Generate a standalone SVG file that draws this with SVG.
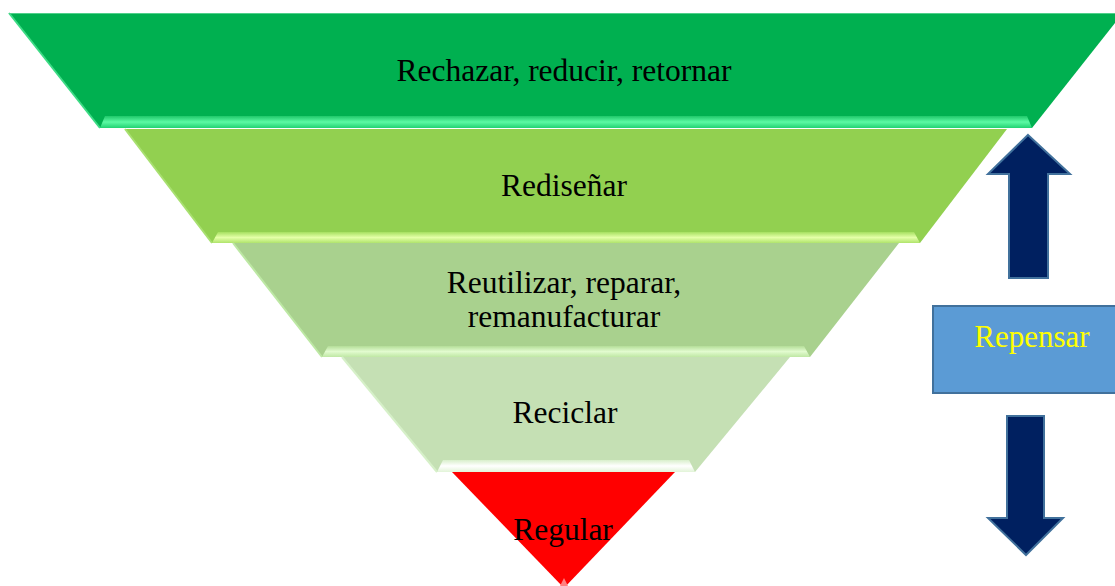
<svg xmlns="http://www.w3.org/2000/svg" width="1115" height="586" viewBox="0 0 1115 586">
  <defs>
    <linearGradient id="bev1" x1="0" y1="0" x2="0" y2="1">
      <stop offset="0" stop-color="#1FC86A"/>
      <stop offset="0.5" stop-color="#5CFAA4"/>
      <stop offset="1" stop-color="#22D272"/>
    </linearGradient>
    <linearGradient id="bev2" x1="0" y1="0" x2="0" y2="1">
      <stop offset="0" stop-color="#A6E060"/>
      <stop offset="0.5" stop-color="#E4FFA8"/>
      <stop offset="1" stop-color="#B0E46C"/>
    </linearGradient>
    <linearGradient id="bev3" x1="0" y1="0" x2="0" y2="1">
      <stop offset="0" stop-color="#B4DE98"/>
      <stop offset="0.5" stop-color="#E2FBCF"/>
      <stop offset="1" stop-color="#BFE8A4"/>
    </linearGradient>
    <linearGradient id="bev4" x1="0" y1="0" x2="0" y2="1">
      <stop offset="0" stop-color="#D8EFCB"/>
      <stop offset="0.5" stop-color="#FFFFFF"/>
      <stop offset="1" stop-color="#E2F4D8"/>
    </linearGradient>
  </defs>
  <style>
    .lbl { font-family: "Liberation Serif", "Times New Roman", serif; font-size: 31.5px; fill: #000000; text-anchor: middle; }
    .rep { font-family: "Liberation Serif", "Times New Roman", serif; font-size: 31px; fill: #FFFF00; text-anchor: middle; }
    .arrow { fill: #002060; stroke: #41719C; stroke-width: 2; }
  </style>

  <g id="level1">
    <polygon points="9,13 1123,13 1032,128 100,128" fill="#00B050"/>
    <polygon points="100,128 105,116 1027,116 1032,128" fill="url(#bev1)"/>
    <polyline points="9,13 100,128" fill="none" stroke="#3DDB85" stroke-width="2"/>
    <line x1="9" y1="13.5" x2="1115" y2="13.5" stroke="#4FD08A" stroke-width="1"/>
    <text class="lbl" x="564" y="81">Rechazar, reducir, retornar</text>
  </g>

  <g id="level2">
    <polygon points="125,129 1007,129 920,243 212,243" fill="#92D050"/>
    <polygon points="212,243 218,232 914,232 920,243" fill="url(#bev2)"/>
    <polyline points="125,129 212,243" fill="none" stroke="#A8E070" stroke-width="2"/>
    <text class="lbl" x="564" y="196">Rediseñar</text>
  </g>

  <g id="level3">
    <polygon points="233,243 899,243 810,357 322,357" fill="#A9D18E"/>
    <polygon points="322,357 328,346 804,346 810,357" fill="url(#bev3)"/>
    <polyline points="233,243 322,357" fill="none" stroke="#BDE8A4" stroke-width="2"/>
    <text class="lbl" x="564" y="293">Reutilizar, reparar,</text>
    <text class="lbl" x="564" y="327">remanufacturar</text>
  </g>

  <g id="level4">
    <polygon points="342,357 790,357 695,472 437,472" fill="#C5E0B4"/>
    <polygon points="437,472 443,460 689,460 695,472" fill="url(#bev4)"/>
    <polyline points="342,357 437,472" fill="none" stroke="#D6F0C8" stroke-width="2"/>
    <text class="lbl" x="565" y="423">Reciclar</text>
  </g>

  <g id="level5">
    <polygon points="452,472 675,472 564,588" fill="#FF0000"/>
    <polygon points="560,586 564,578 568,586" fill="#FF8080"/>
    <text class="lbl" x="563" y="540">Regular</text>
  </g>

  <g id="repensar">
    <rect x="933" y="306" width="190" height="87" fill="#5B9BD5" stroke="#41719C" stroke-width="2"/>
    <text class="rep" x="1032" y="347">Repensar</text>
  </g>

  <g id="connectors">
    <polygon class="arrow" points="1028,135 1070,174 1048,174 1048,278 1009,278 1009,174 988,174"/>
    <polygon class="arrow" points="1007,416 1044,416 1044,518 1063,518 1026,555 988,518 1007,518"/>
  </g>
</svg>
